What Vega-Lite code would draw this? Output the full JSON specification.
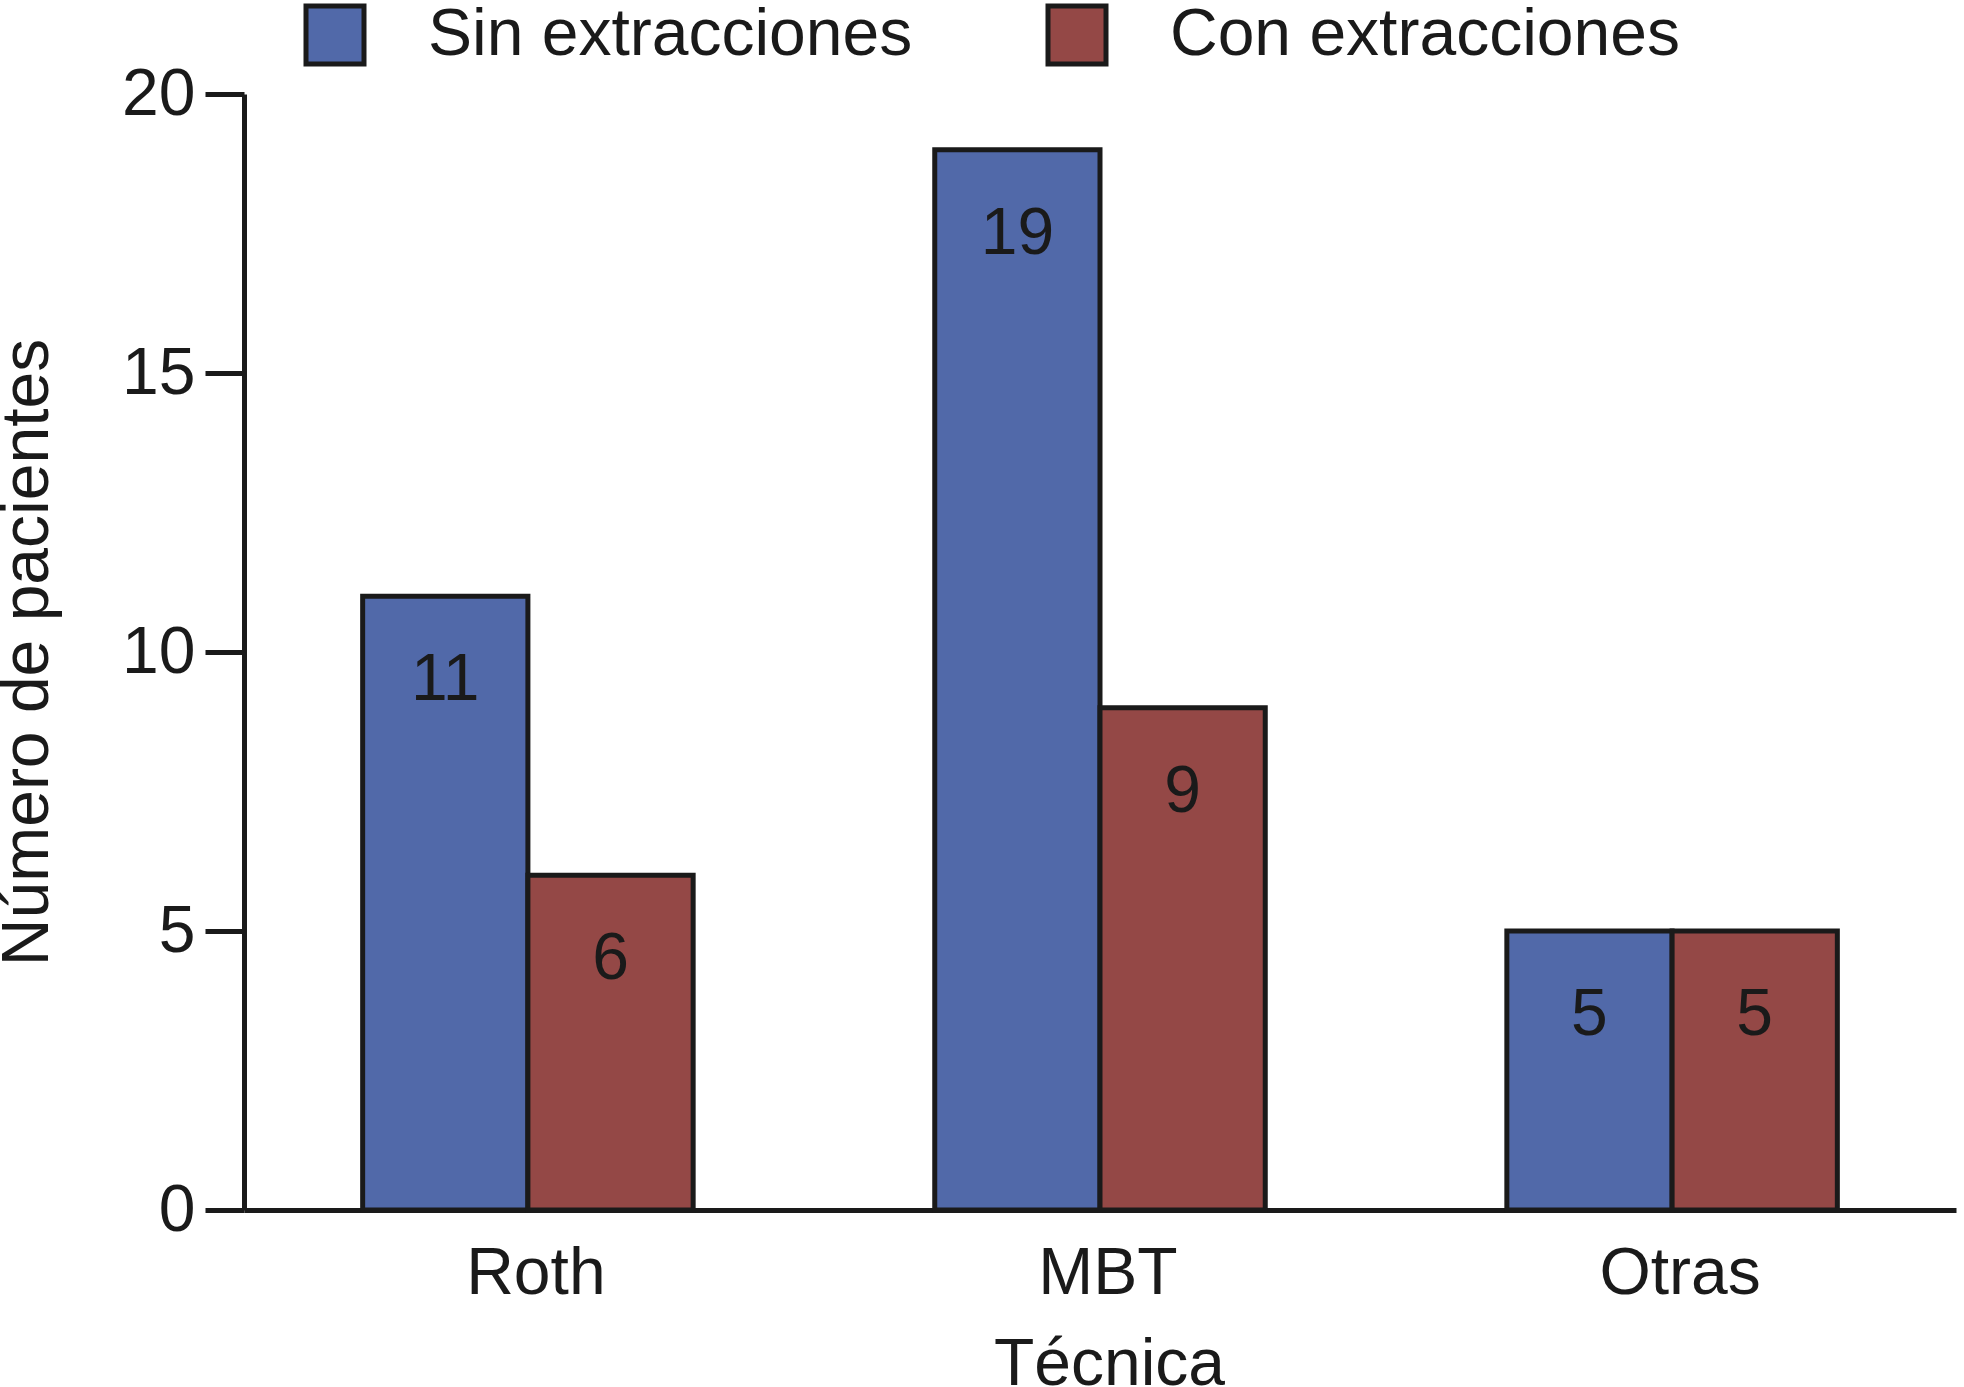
{
  "$schema": "https://vega.github.io/schema/vega-lite/v6.json",
  "width": 1712,
  "height": 1116,
  "autosize": {"type": "none"},
  "padding": {"left": 244, "top": 94, "right": 8, "bottom": 177},
  "background": "white",
  "data": {
    "values": [
      {"tecnica": "Roth", "grupo": "Sin extracciones", "pacientes": 11},
      {"tecnica": "Roth", "grupo": "Con extracciones", "pacientes": 6},
      {"tecnica": "MBT", "grupo": "Sin extracciones", "pacientes": 19},
      {"tecnica": "MBT", "grupo": "Con extracciones", "pacientes": 9},
      {"tecnica": "Otras", "grupo": "Sin extracciones", "pacientes": 5},
      {"tecnica": "Otras", "grupo": "Con extracciones", "pacientes": 5}
    ]
  },
  "encoding": {
    "x": {
      "field": "tecnica",
      "type": "nominal",
      "sort": ["Roth", "MBT", "Otras"],
      "scale": {"paddingInner": 0.4223, "paddingOuter": 0.2074},
      "axis": {
        "title": "Técnica",
        "labelAngle": 0,
        "ticks": false,
        "tickSize": 0,
        "labelPadding": 83,
        "labelOffset": 8,
        "labelBaseline": "alphabetic",
        "labelFontSize": 66,
        "titleFontSize": 66,
        "titleFontWeight": "normal",
        "titleBaseline": "alphabetic",
        "titleX": 865,
        "titleY": 174,
        "domainWidth": 5,
        "domainColor": "#1a1a1a"
      }
    },
    "xOffset": {
      "field": "grupo",
      "type": "nominal",
      "sort": ["Sin extracciones", "Con extracciones"],
      "scale": {"paddingInner": 0, "paddingOuter": 0}
    },
    "y": {
      "field": "pacientes",
      "type": "quantitative",
      "scale": {"domain": [0, 20], "nice": false},
      "axis": {
        "title": "Número de pacientes",
        "values": [0, 5, 10, 15, 20],
        "grid": false,
        "tickSize": 39,
        "tickWidth": 5,
        "tickColor": "#1a1a1a",
        "labelPadding": 10,
        "labelFontSize": 66,
        "titleFontSize": 66,
        "titleFontWeight": "normal",
        "titleAngle": -90,
        "titleBaseline": "alphabetic",
        "titleX": -197,
        "titleY": 558,
        "titleAlign": "center",
        "domainWidth": 5,
        "domainColor": "#1a1a1a"
      }
    }
  },
  "layer": [
    {
      "mark": {"type": "bar", "stroke": "#1a1a1a", "strokeWidth": 5, "opacity": 1},
      "encoding": {
        "color": {
          "field": "grupo",
          "type": "nominal",
          "scale": {"domain": ["Sin extracciones", "Con extracciones"], "range": ["#5169A9", "#944846"]},
          "legend": {
            "title": null,
            "orient": "none",
            "direction": "horizontal",
            "legendX": 58,
            "legendY": -92,
            "padding": 0,
            "symbolType": "square",
            "symbolSize": 3364,
            "symbolStrokeColor": "#1a1a1a",
            "symbolStrokeWidth": 5,
            "symbolOpacity": 1,
            "labelFontSize": 66,
            "labelLimit": 1000,
            "labelOffset": 60,
            "labelColor": "#1a1a1a",
            "columnPadding": 125
          }
        }
      }
    },
    {
      "mark": {"type": "text", "dy": 104, "baseline": "alphabetic", "align": "center", "fontSize": 66, "color": "#1a1a1a", "font": "Liberation Sans"},
      "encoding": {"text": {"field": "pacientes", "type": "quantitative"}}
    }
  ],
  "config": {
    "view": {"stroke": null},
    "font": "Liberation Sans",
    "axis": {"labelColor": "#1a1a1a", "titleColor": "#1a1a1a", "labelFont": "Liberation Sans", "titleFont": "Liberation Sans"},
    "legend": {"labelFont": "Liberation Sans"}
  }
}
